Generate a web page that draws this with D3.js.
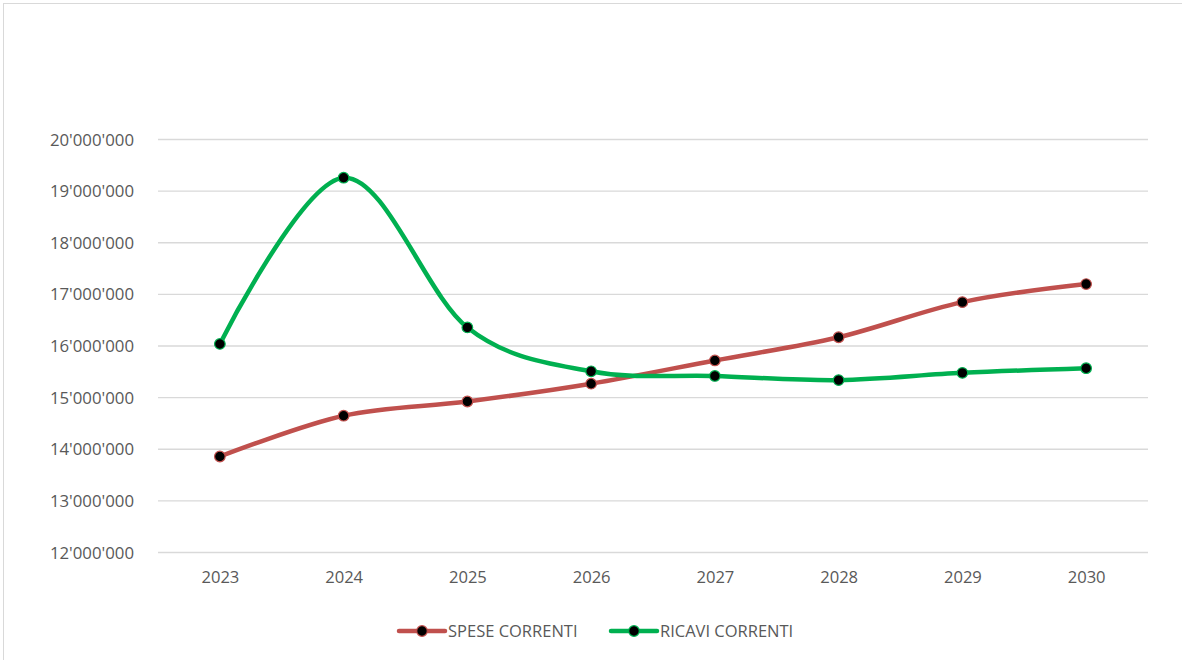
<!DOCTYPE html>
<html><head><meta charset="utf-8">
<script src="https://cdn.jsdelivr.net/npm/d3@7"></script>
<style>
html,body{margin:0;padding:0;background:#fff;}
svg{display:block;font-family:"Open Sans","Noto Sans",sans-serif;}
</style></head>
<body><svg id="chart" width="1182" height="660"></svg>
<script>
const years = ["2023","2024","2025","2026","2027","2028","2029","2030"];
const speseCorrenti = [13850000,14640000,14915000,15260000,15710000,16160000,16840000,17190000];
const ricaviCorrenti = [16030000,19250000,16350000,15500000,15410000,15330000,15470000,15560000];
const yTicks = [12000000,13000000,14000000,15000000,16000000,17000000,18000000,19000000,20000000];
const seriesNames = ["SPESE CORRENTI","RICAVI CORRENTI"];
const seriesColors = ["#C0504D","#00B050"];

const svg = d3.select("#chart");
svg.append("rect").attr("x",3.5).attr("y",3.5).attr("width",1190).attr("height",670)
  .attr("fill","#fff").attr("stroke","#D9D9D9").attr("stroke-width",1);

const x = d3.scalePoint().domain(years).range([158,1148]).padding(0.5);
const y = d3.scaleLinear().domain([12000000,20000000]).range([552,139]);
const loc = d3.formatLocale({decimal:".",thousands:"'",grouping:[3],currency:["",""]});
const fmt = loc.format(",");

const FONT = "'Open Sans','Noto Sans',sans-serif";
const yAxis = d3.axisLeft(y).tickValues(yTicks).tickFormat(fmt).tickSize(-(1148-158)).tickPadding(24);
const gy = svg.append("g").attr("transform","translate(158,0)").call(yAxis);
gy.select(".domain").remove();
gy.selectAll(".tick line").attr("stroke","#D9D9D9").attr("stroke-width",1.3);
gy.selectAll(".tick text").attr("fill","#595959").attr("font-size","16.8px")
  .attr("font-family",FONT).attr("dy","0.36em");

const xAxis = d3.axisBottom(x).tickSize(0).tickPadding(19);
const gx = svg.append("g").attr("transform","translate(0,552)").call(xAxis);
gx.select(".domain").remove();
gx.selectAll(".tick text").attr("fill","#595959").attr("font-size","16.6px")
  .attr("font-family",FONT);

const line = d3.line().x((d,i)=>x(years[i])).y(d=>y(d)).curve(d3.curveCatmullRom.alpha(0));
const allSeries = [speseCorrenti, ricaviCorrenti];
allSeries.forEach((s,k)=>{
  svg.append("path").datum(s).attr("d",line).attr("fill","none")
    .attr("stroke",seriesColors[k]).attr("stroke-width",4.5).attr("stroke-linecap","round");
});
allSeries.forEach((s,k)=>{
  svg.append("g").selectAll("circle").data(s).join("circle")
    .attr("cx",(d,i)=>x(years[i])).attr("cy",d=>y(d)).attr("r",5.3)
    .attr("fill","#000").attr("stroke",seriesColors[k]).attr("stroke-width",1.2);
});

const legendX = [399,611];
const lg = svg.append("g");
seriesNames.forEach((n,k)=>{
  const g = lg.append("g").attr("transform",`translate(${legendX[k]},631)`);
  g.append("line").attr("x1",0).attr("x2",46).attr("y1",0).attr("y2",0)
    .attr("stroke",seriesColors[k]).attr("stroke-width",4.5).attr("stroke-linecap","round");
  g.append("circle").attr("cx",23).attr("cy",0).attr("r",5.3).attr("fill","#000")
    .attr("stroke",seriesColors[k]).attr("stroke-width",1.2);
  g.append("text").attr("x",49).attr("y",0).attr("dy","0.36em").attr("fill","#595959")
    .attr("font-size","16.5px").attr("font-family",FONT).text(n);
});
</script></body></html>
